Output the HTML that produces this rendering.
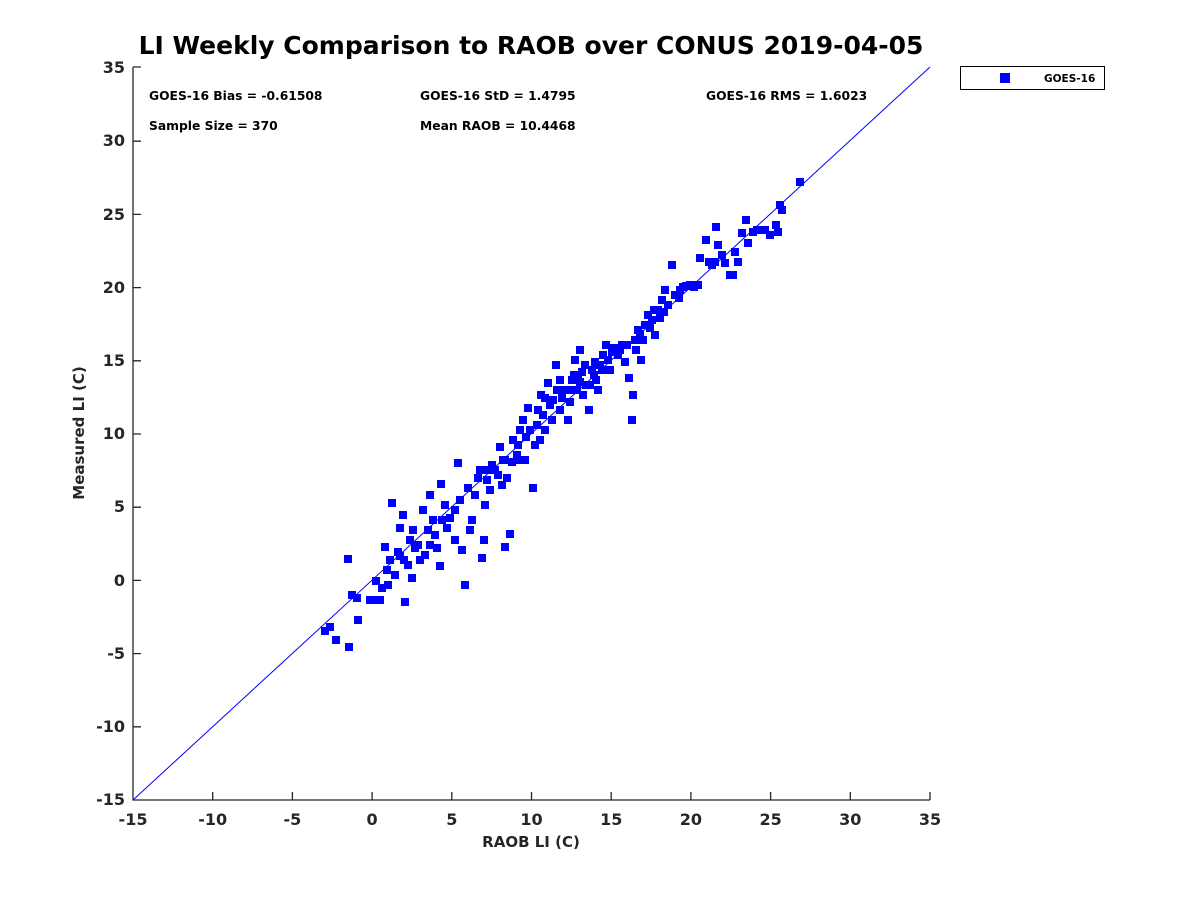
<!DOCTYPE html>
<html><head><meta charset="utf-8"><style>
body{margin:0;background:#fff;}
svg{display:block;font-family:"DejaVu Sans","Liberation Sans",sans-serif;}
</style></head><body>
<svg width="1200" height="900" viewBox="0 0 1200 900" xmlns="http://www.w3.org/2000/svg">
<rect width="1200" height="900" fill="#fff"/>
<text x="531" y="54" text-anchor="middle" font-size="25" font-weight="bold" fill="#000">LI Weekly Comparison to RAOB over CONUS 2019-04-05</text>
<g stroke="#262626" stroke-width="1.3" fill="none">
<path d="M133,67 V800 H930"/>
<path d="M212.7,800v-8M292.4,800v-8M372.1,800v-8M451.8,800v-8M531.5,800v-8M611.2,800v-8M690.9,800v-8M770.6,800v-8M850.3,800v-8M930,800v-8"/>
<path d="M133,726.8h8M133,653.6h8M133,580.4h8M133,507.2h8M133,434h8M133,360.8h8M133,287.6h8M133,214.4h8M133,141.2h8M133,67h8"/>
</g>
<g font-size="16" font-weight="bold" fill="#262626" text-anchor="middle">
<text x="133" y="825">-15</text><text x="212.7" y="825">-10</text><text x="292.4" y="825">-5</text><text x="372.1" y="825">0</text><text x="451.8" y="825">5</text><text x="531.5" y="825">10</text><text x="611.2" y="825">15</text><text x="690.9" y="825">20</text><text x="770.6" y="825">25</text><text x="850.3" y="825">30</text><text x="930" y="825">35</text>
</g>
<g font-size="16" font-weight="bold" fill="#262626" text-anchor="end">
<text x="125" y="805">-15</text><text x="125" y="732">-10</text><text x="125" y="659">-5</text><text x="125" y="586">0</text><text x="125" y="512">5</text><text x="125" y="439">10</text><text x="125" y="366">15</text><text x="125" y="293">20</text><text x="125" y="220">25</text><text x="125" y="146">30</text><text x="125" y="73">35</text>
</g>
<text x="531" y="847" text-anchor="middle" font-size="15" font-weight="bold" fill="#262626">RAOB LI (C)</text>
<text transform="translate(84,433) rotate(-90)" text-anchor="middle" font-size="15" font-weight="bold" fill="#262626">Measured LI (C)</text>
<g font-size="12.3" font-weight="bold" fill="#000">
<text x="149" y="100">GOES-16 Bias = -0.61508</text>
<text x="420" y="100">GOES-16 StD = 1.4795</text>
<text x="706" y="100">GOES-16 RMS = 1.6023</text>
<text x="149" y="130">Sample Size = 370</text>
<text x="420" y="130">Mean RAOB = 10.4468</text>
</g>
<line x1="133" y1="800" x2="930" y2="67" stroke="#0000ff" stroke-width="1"/>
<rect x="960.5" y="66.5" width="144" height="23" fill="#fff" stroke="#000"/>
<rect x="1000" y="73" width="10" height="10" fill="#0000ff"/>
<text x="1044" y="82" font-size="10.5" font-weight="bold" fill="#000">GOES-16</text>
<g fill="#0000ff" transform="translate(-4,-4)">
<rect x="325" y="631" width="8" height="8"/><rect x="330" y="627" width="8" height="8"/><rect x="336" y="640" width="8" height="8"/><rect x="349" y="647" width="8" height="8"/><rect x="348" y="559" width="8" height="8"/><rect x="352" y="595" width="8" height="8"/><rect x="357" y="598" width="8" height="8"/><rect x="358" y="620" width="8" height="8"/><rect x="373" y="600" width="8" height="8"/><rect x="376" y="581" width="8" height="8"/><rect x="380" y="600" width="8" height="8"/><rect x="385" y="547" width="8" height="8"/><rect x="387" y="570" width="8" height="8"/><rect x="388" y="585" width="8" height="8"/><rect x="392" y="503" width="8" height="8"/><rect x="400" y="528" width="8" height="8"/><rect x="403" y="515" width="8" height="8"/><rect x="405" y="602" width="8" height="8"/><rect x="404" y="560" width="8" height="8"/><rect x="410" y="540" width="8" height="8"/><rect x="412" y="578" width="8" height="8"/><rect x="415" y="548" width="8" height="8"/><rect x="420" y="560" width="8" height="8"/><rect x="423" y="510" width="8" height="8"/><rect x="428" y="530" width="8" height="8"/><rect x="430" y="495" width="8" height="8"/><rect x="433" y="520" width="8" height="8"/><rect x="437" y="548" width="8" height="8"/><rect x="441" y="484" width="8" height="8"/><rect x="445" y="505" width="8" height="8"/><rect x="440" y="566" width="8" height="8"/><rect x="450" y="518" width="8" height="8"/><rect x="455" y="540" width="8" height="8"/><rect x="458" y="463" width="8" height="8"/><rect x="460" y="500" width="8" height="8"/><rect x="465" y="585" width="8" height="8"/><rect x="462" y="550" width="8" height="8"/><rect x="470" y="530" width="8" height="8"/><rect x="472" y="520" width="8" height="8"/><rect x="475" y="495" width="8" height="8"/><rect x="480" y="470" width="8" height="8"/><rect x="482" y="558" width="8" height="8"/><rect x="484" y="540" width="8" height="8"/><rect x="487" y="480" width="8" height="8"/><rect x="490" y="490" width="8" height="8"/><rect x="495" y="470" width="8" height="8"/><rect x="500" y="447" width="8" height="8"/><rect x="503" y="460" width="8" height="8"/><rect x="505" y="547" width="8" height="8"/><rect x="510" y="534" width="8" height="8"/><rect x="507" y="478" width="8" height="8"/><rect x="513" y="440" width="8" height="8"/><rect x="517" y="455" width="8" height="8"/><rect x="520" y="430" width="8" height="8"/><rect x="523" y="420" width="8" height="8"/><rect x="525" y="460" width="8" height="8"/><rect x="528" y="408" width="8" height="8"/><rect x="533" y="488" width="8" height="8"/><rect x="535" y="445" width="8" height="8"/><rect x="538" y="410" width="8" height="8"/><rect x="541" y="395" width="8" height="8"/><rect x="545" y="430" width="8" height="8"/><rect x="548" y="383" width="8" height="8"/><rect x="550" y="405" width="8" height="8"/><rect x="553" y="400" width="8" height="8"/><rect x="556" y="365" width="8" height="8"/><rect x="560" y="410" width="8" height="8"/><rect x="565" y="390" width="8" height="8"/><rect x="568" y="420" width="8" height="8"/><rect x="572" y="380" width="8" height="8"/><rect x="575" y="360" width="8" height="8"/><rect x="578" y="375" width="8" height="8"/><rect x="580" y="350" width="8" height="8"/><rect x="583" y="395" width="8" height="8"/><rect x="586" y="385" width="8" height="8"/><rect x="589" y="410" width="8" height="8"/><rect x="592" y="370" width="8" height="8"/><rect x="596" y="380" width="8" height="8"/><rect x="600" y="365" width="8" height="8"/><rect x="603" y="355" width="8" height="8"/><rect x="606" y="345" width="8" height="8"/><rect x="610" y="370" width="8" height="8"/><rect x="614" y="348" width="8" height="8"/><rect x="618" y="355" width="8" height="8"/><rect x="622" y="345" width="8" height="8"/><rect x="625" y="362" width="8" height="8"/><rect x="629" y="378" width="8" height="8"/><rect x="633" y="395" width="8" height="8"/><rect x="632" y="420" width="8" height="8"/><rect x="635" y="340" width="8" height="8"/><rect x="638" y="330" width="8" height="8"/><rect x="641" y="360" width="8" height="8"/><rect x="645" y="325" width="8" height="8"/><rect x="648" y="315" width="8" height="8"/><rect x="652" y="320" width="8" height="8"/><rect x="655" y="335" width="8" height="8"/><rect x="658" y="310" width="8" height="8"/><rect x="662" y="300" width="8" height="8"/><rect x="665" y="290" width="8" height="8"/><rect x="668" y="305" width="8" height="8"/><rect x="672" y="265" width="8" height="8"/><rect x="675" y="295" width="8" height="8"/><rect x="679" y="298" width="8" height="8"/><rect x="683" y="287" width="8" height="8"/><rect x="686" y="286" width="8" height="8"/><rect x="690" y="285" width="8" height="8"/><rect x="694" y="287" width="8" height="8"/><rect x="698" y="285" width="8" height="8"/><rect x="706" y="240" width="8" height="8"/><rect x="709" y="262" width="8" height="8"/><rect x="712" y="265" width="8" height="8"/><rect x="715" y="262" width="8" height="8"/><rect x="716" y="227" width="8" height="8"/><rect x="718" y="245" width="8" height="8"/><rect x="722" y="255" width="8" height="8"/><rect x="725" y="263" width="8" height="8"/><rect x="730" y="275" width="8" height="8"/><rect x="733" y="275" width="8" height="8"/><rect x="738" y="262" width="8" height="8"/><rect x="742" y="233" width="8" height="8"/><rect x="746" y="220" width="8" height="8"/><rect x="748" y="243" width="8" height="8"/><rect x="753" y="232" width="8" height="8"/><rect x="757" y="230" width="8" height="8"/><rect x="760" y="230" width="8" height="8"/><rect x="765" y="230" width="8" height="8"/><rect x="776" y="225" width="8" height="8"/><rect x="778" y="232" width="8" height="8"/><rect x="780" y="205" width="8" height="8"/><rect x="782" y="210" width="8" height="8"/><rect x="800" y="182" width="8" height="8"/>
<rect x="398" y="552" width="8" height="8"/><rect x="408" y="565" width="8" height="8"/><rect x="418" y="545" width="8" height="8"/><rect x="425" y="555" width="8" height="8"/><rect x="435" y="535" width="8" height="8"/><rect x="447" y="528" width="8" height="8"/><rect x="395" y="575" width="8" height="8"/><rect x="413" y="530" width="8" height="8"/><rect x="468" y="488" width="8" height="8"/><rect x="478" y="478" width="8" height="8"/><rect x="485" y="505" width="8" height="8"/><rect x="492" y="465" width="8" height="8"/><rect x="498" y="475" width="8" height="8"/><rect x="502" y="485" width="8" height="8"/><rect x="512" y="462" width="8" height="8"/><rect x="518" y="445" width="8" height="8"/><rect x="530" y="430" width="8" height="8"/><rect x="537" y="425" width="8" height="8"/><rect x="540" y="440" width="8" height="8"/><rect x="543" y="415" width="8" height="8"/><rect x="526" y="437" width="8" height="8"/><rect x="552" y="420" width="8" height="8"/><rect x="557" y="390" width="8" height="8"/><rect x="562" y="398" width="8" height="8"/><rect x="570" y="402" width="8" height="8"/><rect x="574" y="375" width="8" height="8"/><rect x="577" y="390" width="8" height="8"/><rect x="582" y="372" width="8" height="8"/><rect x="585" y="365" width="8" height="8"/><rect x="590" y="385" width="8" height="8"/><rect x="594" y="375" width="8" height="8"/><rect x="598" y="390" width="8" height="8"/><rect x="602" y="370" width="8" height="8"/><rect x="608" y="360" width="8" height="8"/><rect x="612" y="352" width="8" height="8"/><rect x="620" y="350" width="8" height="8"/><rect x="627" y="345" width="8" height="8"/><rect x="636" y="350" width="8" height="8"/><rect x="643" y="340" width="8" height="8"/><rect x="650" y="328" width="8" height="8"/><rect x="660" y="318" width="8" height="8"/><rect x="570" y="390" width="8" height="8"/><rect x="580" y="382" width="8" height="8"/><rect x="595" y="362" width="8" height="8"/><rect x="560" y="380" width="8" height="8"/><rect x="545" y="398" width="8" height="8"/><rect x="520" y="460" width="8" height="8"/><rect x="505" y="460" width="8" height="8"/><rect x="488" y="470" width="8" height="8"/><rect x="455" y="510" width="8" height="8"/><rect x="442" y="520" width="8" height="8"/><rect x="430" y="545" width="8" height="8"/><rect x="400" y="556" width="8" height="8"/><rect x="382" y="588" width="8" height="8"/><rect x="390" y="560" width="8" height="8"/><rect x="370" y="600" width="8" height="8"/><rect x="680" y="290" width="8" height="8"/><rect x="654" y="310" width="8" height="8"/><rect x="640" y="334" width="8" height="8"/><rect x="616" y="348" width="8" height="8"/><rect x="735" y="252" width="8" height="8"/><rect x="770" y="235" width="8" height="8"/><rect x="700" y="258" width="8" height="8"/><rect x="664" y="312" width="8" height="8"/>
</g>
</svg>
</body></html>
